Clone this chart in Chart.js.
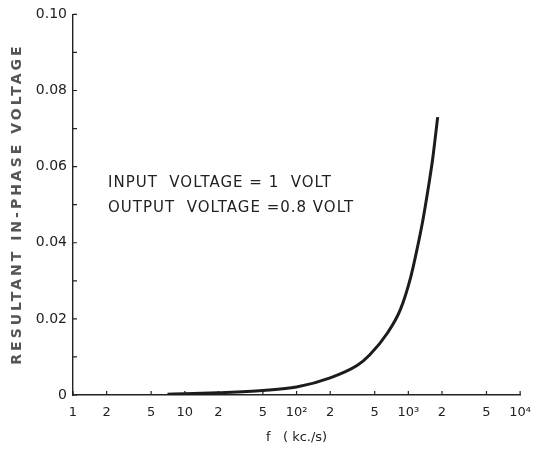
<!DOCTYPE html>
<html>
<head>
<meta charset="utf-8">
<script src="https://cdn.jsdelivr.net/npm/chart.js@4/dist/chart.umd.min.js"></script>
<style>
  html, body { margin: 0; padding: 0; background: #fff; }
  #wrap { width: 541px; height: 452px; }
</style>
</head>
<body>
<div id="wrap"><canvas id="chartLine" width="541" height="452"></canvas></div>
<script>
// frequency (kc/s) and resultant in-phase voltage
const freq = [7, 10, 20, 50, 100, 200, 350, 450, 650, 850, 1050, 1200, 1350, 1500, 1650, 1830];
const voltage = [0.0002, 0.0003, 0.0006, 0.0012, 0.0021, 0.0045, 0.0078, 0.0105, 0.0163, 0.0225, 0.0310, 0.0385, 0.0460, 0.0540, 0.0620, 0.0730];

const xTickValues = [1, 2, 5, 10, 20, 50, 100, 200, 500, 1000, 2000, 5000, 10000];
const xTickLabels = ['1', '2', '5', '10', '2', '5', '10²', '2', '5', '10³', '2', '5', '10⁴'];

const yTitle = 'RESULTANT IN-PHASE VOLTAGE';
const noteLines = ['INPUT  VOLTAGE = 1  VOLT', 'OUTPUT  VOLTAGE =0.8 VOLT'];

const ink = '#222';

// small tick marks drawn inside the axes, plus the rotated axis title and the note
const extras = {
  id: 'extras',
  afterDraw(chart) {
    const ctx = chart.ctx;
    const xs = chart.scales.x, ys = chart.scales.y;
    ctx.save();
    ctx.strokeStyle = ink;
    ctx.lineWidth = 1.2;
    ctx.beginPath();
    ys.ticks.forEach(t => {
      const py = ys.getPixelForValue(t.value);
      ctx.moveTo(xs.left, py);
      ctx.lineTo(xs.left + 4, py);
    });
    xTickValues.forEach(v => {
      const px = xs.getPixelForValue(v);
      ctx.moveTo(px, ys.bottom);
      ctx.lineTo(px, ys.bottom - 4);
    });
    ctx.stroke();

    ctx.fillStyle = '#555';
    ctx.font = 'bold 14px "DejaVu Sans"';
    ctx.letterSpacing = '3px';
    ctx.textAlign = 'center';
    ctx.textBaseline = 'middle';
    ctx.translate(17, 204);
    ctx.rotate(-Math.PI / 2);
    ctx.fillText(yTitle, 0, 0);
    ctx.restore();

    ctx.save();
    ctx.fillStyle = ink;
    ctx.font = '15px "DejaVu Sans"';
    ctx.letterSpacing = '1px';
    ctx.textAlign = 'left';
    ctx.textBaseline = 'middle';
    ctx.fillText(noteLines[0], 108, 183);
    ctx.fillText(noteLines[1], 108, 208);
    ctx.restore();
  }
};

const ctxLine = document.getElementById('chartLine');
const chartLine = new Chart(ctxLine, {
  type: 'line',
  data: {
    datasets: [
      {
        data: freq.map((f, i) => ({ x: f, y: voltage[i] })),
        borderColor: '#1c1c1c',
        borderWidth: 3,
        pointRadius: 0,
        cubicInterpolationMode: 'monotone',
        fill: false,
      },
    ]
  },
  options: {
    responsive: false,
    animation: false,
    layout: { padding: { top: 14, right: 18, left: 0, bottom: 0 } },
    plugins: {
      legend: { display: false },
      tooltip: { enabled: false },
    },
    scales: {
      x: {
        type: 'logarithmic',
        min: 1,
        max: 10000,
        afterBuildTicks: scale => { scale.ticks = xTickValues.map(v => ({ value: v })); },
        afterFit: scale => { scale.height = 57; },
        grid: { display: false, drawTicks: false },
        border: { display: true, color: ink, width: 1.4 },
        ticks: {
          autoSkip: false,
          maxRotation: 0,
          padding: 10,
          color: ink,
          font: { family: 'DejaVu Sans', size: 13 },
          callback: (value, index) => xTickLabels[index],
        },
        title: {
          display: true,
          text: 'f   ( kc./s)',
          color: ink,
          font: { family: 'DejaVu Sans', size: 13 },
          padding: { top: 4, bottom: 7 },
        },
      },
      y: {
        min: 0,
        max: 0.1,
        afterFit: scale => { scale.width = 73; },
        grid: { display: false, drawTicks: false },
        border: { display: true, color: ink, width: 1.4 },
        ticks: {
          stepSize: 0.01,
          padding: 6,
          color: ink,
          font: { family: 'DejaVu Sans', size: 14 },
          callback: v => {
            const k = Math.round(v * 100);
            if (k % 2 !== 0) return '';
            return k === 0 ? '0' : v.toFixed(2);
          },
        },
      },
    },
  },
  plugins: [extras],
});
</script>
</body>
</html>
